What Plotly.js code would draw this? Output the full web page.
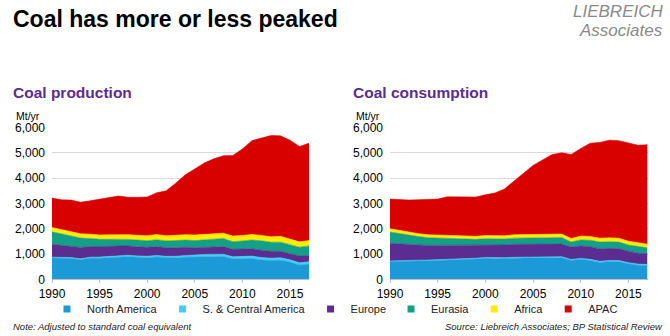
<!DOCTYPE html>
<html>
<head>
<meta charset="utf-8">
<script src="https://cdn.plot.ly/plotly-3.0.1.min.js"></script>
<style>
html,body{margin:0;padding:0;background:#fff;}
#chart{width:670px;height:336px;}
</style>
</head>
<body>
<div id="chart"></div>
<script>
// ---- Data (Mt/yr, standard coal equivalent) ----
const years = [1990,1991,1992,1993,1994,1995,1996,1997,1998,1999,2000,2001,2002,2003,2004,2005,2006,2007,2008,2009,2010,2011,2012,2013,2014,2015,2016,2017];
const regions = ["North America","S. & Central America","Europe","Eurasia","Africa","APAC"];
const regionColors = ["#1b9ad7","#3fd0f8","#5b2d90","#13a086","#ffec00","#d90000"];
const xTicks = [1990,1995,2000,2005,2010,2015];

// Production
const prodNorthAmerica = [840,830,820,770,830,830,850,870,890,870,850,880,850,840,870,880,900,890,900,800,820,820,760,740,750,680,560,600];
const prodSCAmerica    = [35,38,40,40,45,50,52,55,58,55,60,62,58,70,75,80,85,88,92,88,85,98,100,96,98,92,90,95];
const prodEurope       = [510,480,460,450,420,410,400,390,370,360,355,350,340,335,320,290,290,295,300,300,290,285,290,270,260,255,270,225];
const prodEurasia      = [490,440,400,370,320,290,280,275,260,265,260,270,270,285,285,280,295,310,320,300,320,350,370,360,360,345,350,400];
const prodAfrica       = [170,172,172,170,170,172,175,180,185,190,200,205,205,210,215,220,215,215,210,220,215,220,215,215,230,220,210,210];
const prodAPAC         = [1165,1180,1238,1250,1315,1428,1473,1520,1477,1500,1525,1653,1777,2060,2365,2610,2815,2962,3058,3182,3420,3707,3845,3999,3972,3908,3770,3850];

// Consumption
const consNorthAmerica = [700,700,705,725,730,740,770,785,790,800,830,810,820,835,840,850,840,855,850,745,785,745,665,695,690,610,555,540];
const consSCAmerica    = [28,28,28,29,30,31,32,33,34,34,35,36,35,36,38,40,40,42,43,40,42,45,46,48,50,48,45,45];
const consEurope       = [700,670,630,600,580,570,565,550,530,510,505,510,505,515,515,500,515,510,500,490,490,500,490,480,465,455,430,430];
const consEurasia      = [440,410,370,335,305,290,275,255,240,235,235,235,235,240,235,230,235,240,255,200,240,255,270,260,265,245,260,230];
const consAfrica       = [130,125,120,115,115,115,118,120,120,120,122,122,125,130,135,130,132,135,140,140,150,150,155,155,155,150,145,145];
const consAPAC         = [1172,1217,1277,1341,1400,1424,1500,1517,1526,1551,1613,1697,1850,2114,2437,2750,2958,3148,3212,3315,3463,3685,3784,3862,3855,3872,3865,3930];

const prodSeries = [prodNorthAmerica, prodSCAmerica, prodEurope, prodEurasia, prodAfrica, prodAPAC];
const consSeries = [consNorthAmerica, consSCAmerica, consEurope, consEurasia, consAfrica, consAPAC];

// ---- Traces ----
const traces = [];
function addStack(series, xa, ya, group) {
  series.forEach((vals, i) => {
    traces.push({
      type: "scatter", mode: "lines", x: years, y: vals,
      stackgroup: group, name: regions[i],
      xaxis: xa, yaxis: ya,
      line: {width: 0.6, color: regionColors[i], shape: "linear"},
      fillcolor: regionColors[i],
      showlegend: false, hoverinfo: "x+y+name"
    });
  });
}
addStack(prodSeries, "x", "y", "prod");
addStack(consSeries, "x2", "y2", "cons");

// legend-only marker traces
regions.forEach((r, i) => {
  traces.push({
    type: "scatter", mode: "markers", x: [null], y: [null], name: r,
    xaxis: "x", yaxis: "y",
    marker: {symbol: "square", size: 7, color: regionColors[i]},
    showlegend: true
  });
});

const W = 670, H = 336;
const px = v => v / W;
const py = v => (H - v) / H;

function xAxis(domain) {
  return {
    domain: domain, range: [1990, 2017], tickvals: xTicks,
    ticks: "outside", ticklen: 3, tickcolor: "#bfbfbf", tickwidth: 1,
    showline: true, linecolor: "#bfbfbf", linewidth: 1,
    showgrid: false, zeroline: false,
    tickfont: {family: "Arial, Liberation Sans, sans-serif", size: 12, color: "#000"},
    fixedrange: true
  };
}
function yAxis(anchor) {
  return {
    domain: [py(279.3), py(127.5)], range: [0, 6000], dtick: 1000,
    tickformat: ",d", anchor: anchor,
    showgrid: true, gridcolor: "#d9d9d9", gridwidth: 1,
    zeroline: false, showline: false, ticks: "",
    ticklabelstandoff: 6,
    tickfont: {family: "Arial, Liberation Sans, sans-serif", size: 12, color: "#000"},
    fixedrange: true
  };
}

const font = "Arial, Liberation Sans, sans-serif";
const purple = "#5c2d91";
const annotations = [
  {text: "<b>Coal has more or less peaked</b>", x: px(11), y: py(19), xanchor: "left", yanchor: "middle",
   font: {family: font, size: 23, color: "#000"}},
  {text: "<i>LIEBREICH</i>", x: px(665), y: py(11.5), xanchor: "right", yanchor: "middle",
   font: {family: font, size: 17, color: "#8a8a8a"}},
  {text: "<i>Associates</i>", x: px(665), y: py(30), xanchor: "right", yanchor: "middle",
   font: {family: font, size: 17, color: "#8a8a8a"}},
  {text: "<b>Coal production</b>", x: px(11), y: py(92), xanchor: "left", yanchor: "middle",
   font: {family: font, size: 15.5, color: purple}},
  {text: "<b>Coal consumption</b>", x: px(351), y: py(92), xanchor: "left", yanchor: "middle",
   font: {family: font, size: 15.5, color: purple}},
  {text: "Mt/yr", x: px(14), y: py(116), xanchor: "left", yanchor: "middle",
   font: {family: font, size: 10.5, color: "#000"}},
  {text: "Mt/yr", x: px(354), y: py(116), xanchor: "left", yanchor: "middle",
   font: {family: font, size: 10.5, color: "#000"}},
  {text: "<i>Note: Adjusted to standard coal equivalent</i>", x: px(11), y: py(326), xanchor: "left", yanchor: "middle",
   font: {family: font, size: 9.5, color: "#222"}},
  {text: "<i>Source: Liebreich Associates; BP Statistical Review</i>", x: px(665), y: py(326), xanchor: "right", yanchor: "middle",
   font: {family: font, size: 9.5, color: "#222"}}
].map(a => Object.assign({xref: "paper", yref: "paper", showarrow: false}, a));

const layout = {
  width: W, height: H,
  margin: {l: 0, r: 0, t: 0, b: 0},
  paper_bgcolor: "#fff", plot_bgcolor: "#fff",
  xaxis: xAxis([px(52), px(309)]),
  yaxis: yAxis("x"),
  xaxis2: xAxis([px(390), px(647.5)]),
  yaxis2: yAxis("x2"),
  showlegend: true,
  legend: {
    orientation: "h", x: 0.5, xanchor: "center", y: py(309), yanchor: "middle",
    traceorder: "normal",
    font: {family: font, size: 11, color: "#222"},
    itemwidth: 30, tracegroupgap: 0, bgcolor: "rgba(0,0,0,0)"
  },
  annotations: annotations
};

Plotly.newPlot("chart", traces, layout, {displayModeBar: false, staticPlot: true});
</script>
</body>
</html>
